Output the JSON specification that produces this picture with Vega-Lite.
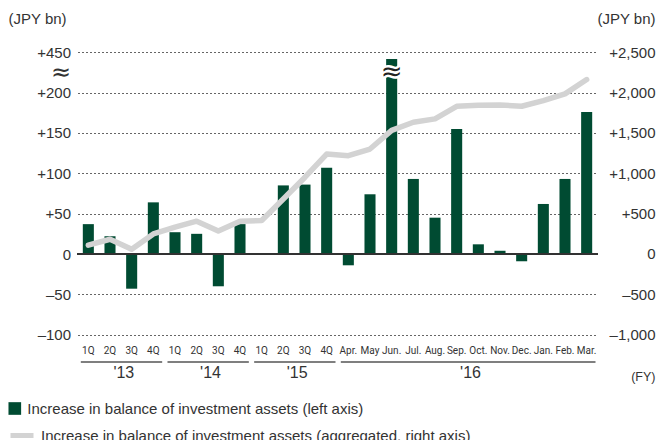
{
  "$schema": "https://vega.github.io/schema/vega-lite/v6.json",
  "width": 520,
  "height": 282.7,
  "autosize": "none",
  "padding": {"left": 77.5, "top": 52, "right": 59.5, "bottom": 105.3},
  "config": {
    "view": {"stroke": null},
    "font": "Liberation Sans",
    "axis": {"labelColor": "#333", "titleColor": "#333", "titleFontWeight": "normal"},
    "legend": {"labelColor": "#333", "padding": 0}
  },
  "data": {
    "values": [
      {"period": "FY13 1Q", "increase": 37, "aggregated": 108},
      {"period": "FY13 2Q", "increase": 22, "aggregated": 182},
      {"period": "FY13 3Q", "increase": -43, "aggregated": 58},
      {"period": "FY13 4Q", "increase": 64, "aggregated": 248},
      {"period": "FY14 1Q", "increase": 27, "aggregated": 331},
      {"period": "FY14 2Q", "increase": 25, "aggregated": 405},
      {"period": "FY14 3Q", "increase": -40, "aggregated": 285},
      {"period": "FY14 4Q", "increase": 37, "aggregated": 405},
      {"period": "FY15 1Q", "increase": 1, "aggregated": 413},
      {"period": "FY15 2Q", "increase": 85, "aggregated": 680},
      {"period": "FY15 3Q", "increase": 86, "aggregated": 950},
      {"period": "FY15 4Q", "increase": 107, "aggregated": 1237},
      {"period": "FY16 Apr.", "increase": -14, "aggregated": 1216},
      {"period": "FY16 May", "increase": 74, "aggregated": 1299},
      {"period": "FY16 Jun.", "increase": 407, "aggregated": 1530},
      {"period": "FY16 Jul.", "increase": 93, "aggregated": 1630},
      {"period": "FY16 Aug.", "increase": 45, "aggregated": 1672},
      {"period": "FY16 Sep.", "increase": 155, "aggregated": 1828},
      {"period": "FY16 Oct.", "increase": 12, "aggregated": 1841},
      {"period": "FY16 Nov.", "increase": 4, "aggregated": 1845},
      {"period": "FY16 Dec.", "increase": -9, "aggregated": 1828},
      {"period": "FY16 Jan.", "increase": 62, "aggregated": 1899},
      {"period": "FY16 Feb.", "increase": 93, "aggregated": 1982},
      {"period": "FY16 Mar.", "increase": 176, "aggregated": 2159}
    ]
  },
  "layer": [
    {
      "layer": [
        {
          "mark": {"type": "bar"},
          "encoding": {
            "x": {
              "field": "period", "type": "nominal", "sort": null,
              "scale": {"paddingInner": 0.49, "paddingOuter": 0.245},
              "axis": {
                "title": "(FY)", "titleX": 577.5, "titleY": 42, "titleAlign": "right", "titleBaseline": "middle",
                "titleFontSize": 12.5, "titleAnchor": null,
                "labelExpr": "split(datum.value, ' ')[1]",
                "labelFont": "Roboto", "labelFontSize": 10, "labelAngle": 0,
                "labelPadding": 11, "domain": false, "ticks": false, "labelOverlap": false
              }
            },
            "y": {
              "field": "increase", "type": "quantitative",
              "scale": {"domain": [-100, 200, 450], "range": [282.7, 40.6, 0], "nice": false, "zero": false},
              "axis": {
                "values": [-100, -50, 0, 50, 100, 150, 200, 325, 450],
                "tickCount": 20,
                "labelExpr": "datum.value == 325 ? '≈' : datum.value > 0 ? '+' + datum.value : datum.value < 0 ? '–' + (-datum.value) : '0'",
                "labelFontSize": {"condition": {"test": "datum.value == 325", "value": 24}, "value": 15},
                "labelFont": {"condition": {"test": "datum.value == 325", "value": "DejaVu Sans"}, "value": "Liberation Sans"},
                "labelOverlap": false,
                "domain": false, "ticks": false, "labelPadding": 7,
                "grid": true, "gridDash": [2, 2], "gridColor": "#666",
                "gridOpacity": {"condition": {"test": "datum.value == 325 || datum.value == 0", "value": 0}, "value": 1},
                "title": "(JPY bn)", "titleAngle": 0, "titleAlign": "left", "titleBaseline": "middle",
                "titleX": -69.5, "titleY": -34, "titleFontSize": 15
              }
            },
            "fill": {
              "datum": "Increase in balance of investment assets (left axis)",
              "scale": {"range": ["#004b32"]},
              "legend": {
                "title": null, "orient": "none", "legendX": -70.2, "legendY": 349,
                "symbolType": "square", "symbolSize": 160, "symbolStrokeWidth": 0,
                "labelFontSize": 15, "labelOffset": 5, "labelLimit": 600
              }
            }
          }
        },
        {
          "mark": {"type": "rule", "color": "#333", "strokeWidth": 1.5},
          "encoding": {"y": {"datum": 0}}
        },
        {
          "transform": [{"filter": "datum.period == 'FY16 Jun.'"}],
          "mark": {"type": "text", "text": "≈", "font": "DejaVu Sans", "fontSize": 26, "fill": "white", "stroke": "white", "strokeWidth": 5, "baseline": "middle"},
          "encoding": {"x": {"field": "period", "type": "nominal", "sort": null}, "y": {"datum": 325}}
        },
        {
          "transform": [{"filter": "datum.period == 'FY16 Jun.'"}],
          "mark": {"type": "text", "text": "≈", "font": "DejaVu Sans", "fontSize": 26, "fill": "#222", "baseline": "middle"},
          "encoding": {"x": {"field": "period", "type": "nominal", "sort": null}, "y": {"datum": 325}}
        },
        {
          "data": {"values": [
            {"year": "'13", "first": "FY13 1Q", "last": "FY13 4Q", "center": "FY13 3Q"},
            {"year": "'14", "first": "FY14 1Q", "last": "FY14 4Q", "center": "FY14 3Q"},
            {"year": "'15", "first": "FY15 1Q", "last": "FY15 4Q", "center": "FY15 3Q"},
            {"year": "'16", "first": "FY16 Apr.", "last": "FY16 Mar.", "center": "FY16 Oct."}
          ]},
          "layer": [
            {
              "mark": {"type": "rule", "color": "#555", "strokeWidth": 1.5},
              "encoding": {
                "x": {"field": "first", "type": "nominal", "sort": null, "bandPosition": -0.18},
                "x2": {"field": "last", "bandPosition": 1.3},
                "y": {"value": {"expr": "height + 27.3"}}
              }
            },
            {
              "mark": {"type": "text", "fontSize": 16, "color": "#333", "baseline": "middle", "align": "center", "dx": 3},
              "encoding": {
                "x": {"field": "center", "type": "nominal", "sort": null, "bandPosition": -0.48},
                "y": {"value": {"expr": "height + 37.8"}},
                "text": {"field": "year"}
              }
            }
          ]
        }
      ]
    },
    {
      "mark": {"type": "line", "strokeWidth": 5.5, "strokeJoin": "round", "strokeCap": "round"},
      "encoding": {
        "x": {"field": "period", "type": "nominal", "sort": null},
        "y": {
          "field": "aggregated", "type": "quantitative",
          "scale": {"domain": [-1000, 2500], "nice": false, "zero": false},
          "axis": {
            "orient": "right",
            "values": [-1000, -500, 0, 500, 1000, 1500, 2000, 2500],
            "tickCount": 20,
            "labelExpr": "datum.value > 0 ? '+' + format(datum.value, ',') : datum.value < 0 ? '–' + format(-datum.value, ',') : '0'",
            "labelFontSize": 15, "labelAlign": "right", "labelPadding": 57.5,
            "domain": false, "ticks": false, "grid": false,
            "title": "(JPY bn)", "titleAngle": 0, "titleAlign": "right", "titleBaseline": "middle",
            "titleX": 57.5, "titleY": -34, "titleFontSize": 15
          }
        },
        "stroke": {
          "datum": "Increase in balance of investment assets (aggregated, right axis)",
          "scale": {"range": ["#d3d3d3"]},
          "legend": {
            "title": null, "orient": "none", "legendX": -69.5, "legendY": 369.5,
            "symbolType": "stroke", "symbolSize": 529, "symbolStrokeWidth": 5,
            "labelFontSize": 15, "labelOffset": 5, "labelLimit": 700
          }
        }
      }
    }
  ],
  "resolve": {"scale": {"y": "independent"}}
}
